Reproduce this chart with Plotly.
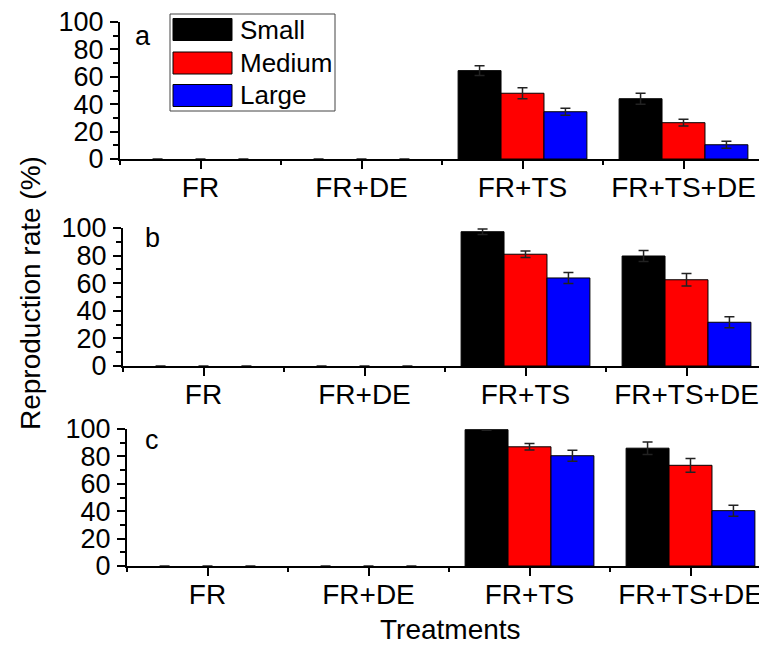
import plotly.graph_objects as go

W, H = 767, 650
OFF = 8  # page body margin in the browser

categories = ["FR", "FR+DE", "FR+TS", "FR+TS+DE"]
series_names = ["Small", "Medium", "Large"]
series_colors = ["#000000", "#ff0000", "#0000ff"]
panel_letters = ["a", "b", "c"]

# panel a
a_small = [0, 0, 64.5, 44.0]
a_small_err = [0, 0, 3.6, 4.0]
a_medium = [0, 0, 48.0, 26.5]
a_medium_err = [0, 0, 4.0, 2.5]
a_large = [0, 0, 34.5, 10.4]
a_large_err = [0, 0, 2.5, 2.5]
# panel b
b_small = [0, 0, 97.3, 79.7]
b_small_err = [0, 0, 2.0, 4.0]
b_medium = [0, 0, 81.0, 62.5]
b_medium_err = [0, 0, 2.3, 4.6]
b_large = [0, 0, 63.8, 31.7]
b_large_err = [0, 0, 4.0, 4.0]
# panel c
c_small = [0, 0, 99.5, 86.0]
c_small_err = [0, 0, 0.5, 4.6]
c_medium = [0, 0, 87.0, 73.5]
c_medium_err = [0, 0, 2.4, 5.0]
c_large = [0, 0, 80.5, 40.4]
c_large_err = [0, 0, 4.0, 4.0]

y_ticks = [0, 20, 40, 60, 80, 100]

panels = [
    [(a_small, a_small_err), (a_medium, a_medium_err), (a_large, a_large_err)],
    [(b_small, b_small_err), (b_medium, b_medium_err), (b_large, b_large_err)],
    [(c_small, c_small_err), (c_medium, c_medium_err), (c_large, c_large_err)],
]

def px_x(v):
    return (v - OFF) / W

def px_y(v):
    return 1 - (v - OFF) / H

# pixel geometry of each panel in the screenshot: (left, right, top, bottom)
geom = [(120, 764, 22, 159), (123, 767, 228, 366), (127, 767, 429, 566)]

FONT = "Liberation Sans, Arial, sans-serif"
xpos = list(range(len(categories)))

fig = go.Figure()
layout = dict(
    width=W, height=H,
    margin=dict(l=0, r=0, t=0, b=0, autoexpand=False),
    paper_bgcolor="white", plot_bgcolor="white",
    barmode="group", bargap=0.2, bargroupgap=0,
    showlegend=False,
    font=dict(family=FONT, color="black"),
)

for p, series in enumerate(panels):
    xa = "x" if p == 0 else f"x{p+1}"
    ya = "y" if p == 0 else f"y{p+1}"
    for s, (vals, errs) in enumerate(series):
        outline = [1 if v > 0 else 0 for v in vals]
        err_shown = [e if v > 0 else None for v, e in zip(vals, errs)]
        fig.add_trace(go.Bar(
            x=xpos, y=vals, name=series_names[s],
            marker=dict(color=series_colors[s], line=dict(color="black", width=outline)),
            error_y=dict(type="data", array=err_shown, visible=True,
                         color="#222222", thickness=1.5, width=5),
            xaxis=xa, yaxis=ya, offsetgroup=str(s),
        ))
    l, r, t, b = geom[p]
    xkey = "xaxis" if p == 0 else f"xaxis{p+1}"
    ykey = "yaxis" if p == 0 else f"yaxis{p+1}"
    right = min(W + OFF, r)
    layout[xkey] = dict(
        domain=[px_x(l), px_x(right)], range=[-0.5, -0.5 + (right - l) / 161.0],
        anchor=ya, tickmode="array", tickvals=xpos, ticktext=categories,
        showline=True, linecolor="black", linewidth=2, automargin=False,
        ticks="outside", ticklen=8, tickwidth=2, tickcolor="black",
        showgrid=False, zeroline=False, ticklabeloverflow="allow",
        tickfont=dict(size=28, family=FONT, color="black"),
        ticklabelstandoff=-6,
        minor=dict(tickvals=[-0.5, 0.5, 1.5, 2.5, 3.5], ticks="outside",
                   ticklen=4, tickwidth=2, tickcolor="black", showgrid=False),
    )
    layout[ykey] = dict(
        domain=[px_y(b), px_y(t)], range=[0, 100],
        anchor=xa, tickmode="array", tickvals=y_ticks,
        showline=True, linecolor="black", linewidth=2, automargin=False,
        ticks="outside", ticklen=8, tickwidth=2, tickcolor="black",
        showgrid=False, zeroline=False, ticklabeloverflow="allow",
        tickfont=dict(size=27, family=FONT, color="black"),
        ticklabelstandoff=1,
        minor=dict(tickmode="linear", tick0=0, dtick=10, ticks="outside",
                   ticklen=5, tickwidth=2, tickcolor="black", showgrid=False),
    )

annotations = []
letter_pos = [(143, 36), (152, 238), (152, 440)]
for (lx, ly), letter in zip(letter_pos, panel_letters):
    annotations.append(dict(text=letter, xref="paper", yref="paper",
                            x=px_x(lx), y=px_y(ly), showarrow=False,
                            xanchor="center", yanchor="middle",
                            font=dict(size=27, family=FONT, color="black")))

annotations.append(dict(text="Reproduction rate (%)", xref="paper", yref="paper",
                        x=px_x(30), y=px_y(293), showarrow=False, textangle=-90,
                        xanchor="center", yanchor="middle",
                        font=dict(size=28, family=FONT, color="black")))
annotations.append(dict(text="Treatments", xref="paper", yref="paper",
                        x=px_x(450), y=px_y(629), showarrow=False,
                        xanchor="center", yanchor="middle",
                        font=dict(size=28, family=FONT, color="black")))

# legend box drawn manually
shapes = [dict(type="rect", xref="paper", yref="paper",
               x0=px_x(170), x1=px_x(335), y0=px_y(111), y1=px_y(14),
               line=dict(color="#444444", width=1), fillcolor="white")]
row_centers = [29.5, 63, 95.5]
for name, color, cy in zip(series_names, series_colors, row_centers):
    shapes.append(dict(type="rect", xref="paper", yref="paper",
                       x0=px_x(173), x1=px_x(232), y0=px_y(cy + 11), y1=px_y(cy - 11),
                       line=dict(color="black", width=1), fillcolor=color))
    annotations.append(dict(text=name, xref="paper", yref="paper",
                            x=px_x(238), y=px_y(cy), showarrow=False,
                            xanchor="left", yanchor="middle",
                            font=dict(size=26, family=FONT, color="black")))

layout["annotations"] = annotations
layout["shapes"] = shapes
fig.update_layout(**layout)
fig.write_html("out.html")
